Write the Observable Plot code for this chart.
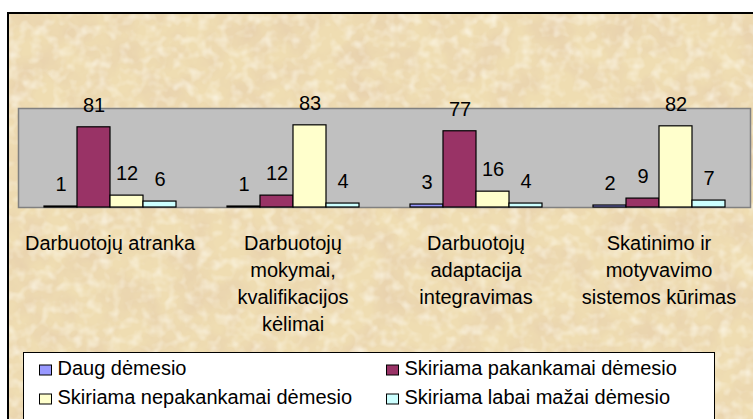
<!DOCTYPE html>
<html>
<head>
<meta charset="utf-8">
<script src="https://cdn.jsdelivr.net/npm/d3@7"></script>
<script src="https://cdn.jsdelivr.net/npm/@observablehq/plot@0.6"></script>
<style>
  body { margin: 0; background: white; }
  #wrap { position: relative; width: 753px; height: 419px; overflow: hidden; background: white; font-family: "Liberation Sans", Arial, sans-serif; }
  #paper { position: absolute; left: 7px; top: 12px; width: 760px; height: 420px; border-top: 2px solid #000; border-left: 2px solid #000; overflow: hidden; }
  #chart, #legend { position: absolute; left: 0; top: 0; }
</style>
</head>
<body>
<div id="wrap">
  <div id="paper">
    <svg width="760" height="420">
      <filter id="grain" x="0" y="0" width="100%" height="100%">
        <feTurbulence type="fractalNoise" baseFrequency="0.03" numOctaves="4" seed="7" result="n"/>
        <feColorMatrix in="n" type="matrix" values="0 0 0 0 0.80  0 0 0 0 0.63  0 0 0 0 0.42  1.7 0 0 0 -0.6"/>
      </filter>
      <filter id="grain2" x="0" y="0" width="100%" height="100%">
        <feTurbulence type="fractalNoise" baseFrequency="0.09" numOctaves="2" seed="3" result="n"/>
        <feColorMatrix in="n" type="matrix" values="0 0 0 0 0.99  0 0 0 0 0.96  0 0 0 0 0.86  0 1.4 0 0 -0.62"/>
      </filter>
      <rect width="100%" height="100%" fill="#EFDDB2"/>
      <rect width="100%" height="100%" filter="url(#grain)"/>
      <rect width="100%" height="100%" filter="url(#grain2)"/>
    </svg>
  </div>
  <div id="chart"></div>
  <div id="legend"></div>
</div>
<script>
const categories = [
  "Darbuotojų atranka",
  "Darbuotojų\nmokymai,\nkvalifikacijos\nkėlimai",
  "Darbuotojų\nadaptacija\nintegravimas",
  "Skatinimo ir\nmotyvavimo\nsistemos kūrimas"
];
const series = [
  "Daug dėmesio",
  "Skiriama pakankamai dėmesio",
  "Skiriama nepakankamai dėmesio",
  "Skiriama labai mažai dėmesio"
];
const daugDemesio = [1, 1, 3, 2];
const pakankamaiDemesio = [81, 12, 77, 9];
const nepakankamaiDemesio = [12, 83, 16, 82];
const labaiMazaiDemesio = [6, 4, 4, 7];
const colors = ["#9999FF", "#993366", "#FFFFCC", "#CCFFFF"];

const seriesValues = [daugDemesio, pakankamaiDemesio, nepakankamaiDemesio, labaiMazaiDemesio];
const table = [];
categories.forEach((c, i) => {
  series.forEach((s, j) => table.push({cat: c, series: s, value: seriesValues[j][i]}));
});
const catTable = categories.map(c => ({cat: c}));

const chart = Plot.plot({
  width: 753,
  height: 419,
  marginLeft: 17,
  marginRight: 2,
  marginTop: 108,
  marginBottom: 212,
  style: {background: "transparent", fontFamily: "'Liberation Sans', Arial, sans-serif", fontSize: "20px", overflow: "visible"},
  fx: {domain: categories, padding: 0, axis: null},
  x: {domain: series, paddingInner: 0, paddingOuter: 0.75, axis: null},
  y: {domain: [0, 100], axis: null},
  color: {domain: series, range: colors},
  marks: [
    Plot.frame({facet: "super", fill: "#C0C0C0", stroke: "#808080", strokeWidth: 1.5}),
    Plot.barY(table, {fx: "cat", x: "series", y: "value", fill: "series", stroke: "black", strokeWidth: 1.2}),
    Plot.text(table, {fx: "cat", x: "series", y: "value", text: d => String(d.value), dy: -22, fontSize: 20, fill: "black"}),
    Plot.text(catTable, {fx: "cat", text: "cat", frameAnchor: "bottom", lineAnchor: "top", dy: 23, lineHeight: 1.35, fontSize: 20, fill: "black"})
  ]
});
document.getElementById("chart").appendChild(chart);

// Legend
const lg = d3.select("#legend").append("svg").attr("width", 753).attr("height", 419)
  .style("font-family", "'Liberation Sans', Arial, sans-serif").style("font-size", "20px");
lg.append("rect").attr("x", 23.5).attr("y", 352.5).attr("width", 691).attr("height", 90)
  .attr("fill", "white").attr("stroke", "black").attr("stroke-width", 1);
const colX = [39.5, 386.5];
const rowY = [375, 404];
series.forEach((s, i) => {
  const cx = colX[i % 2], ry = rowY[Math.floor(i / 2)];
  lg.append("rect").attr("x", cx).attr("y", ry - 10).attr("width", 12).attr("height", 10)
    .attr("fill", colors[i]).attr("stroke", "black").attr("stroke-width", 1);
  lg.append("text").attr("x", cx + 18).attr("y", ry).attr("fill", "black").text(s);
});
</script>
</body>
</html>
